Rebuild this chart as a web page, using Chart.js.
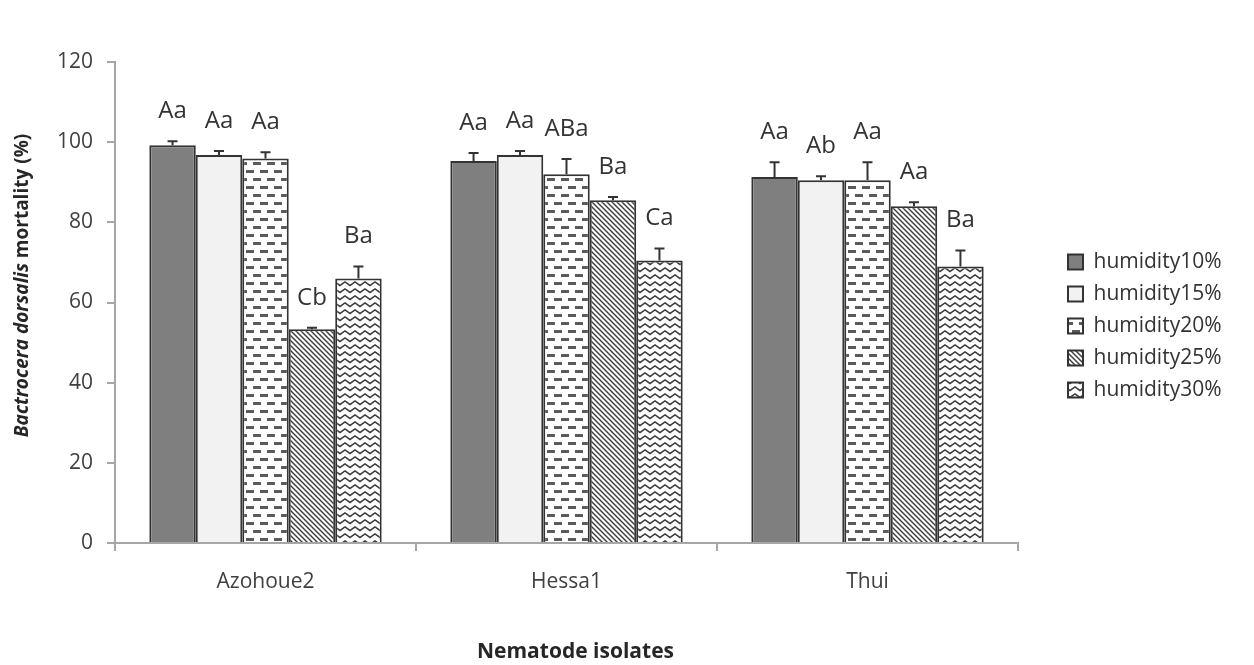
<!DOCTYPE html>
<html><head><meta charset="utf-8">
<script src="https://cdn.jsdelivr.net/npm/chart.js@4.4.0/dist/chart.umd.min.js"></script>
<style>html,body{margin:0;padding:0;background:#fff;}</style>
</head><body><canvas id="c" width="1254" height="665"></canvas>
<script>
const categories = ['Azohoue2', 'Hessa1', 'Thui'];
const seriesNames = ['humidity10%', 'humidity15%', 'humidity20%', 'humidity25%', 'humidity30%'];
const hum10 = [99.2, 95.3, 91.3];
const hum15 = [96.8, 96.8, 90.5];
const hum20 = [95.9, 92.0, 90.5];
const hum25 = [53.3, 85.5, 84.0];
const hum30 = [66.0, 70.5, 69.0];
const err10 = [1.0, 2.0, 3.7];
const err15 = [1.0, 1.0, 1.0];
const err20 = [1.6, 3.8, 4.5];
const err25 = [0.4, 0.8, 1.0];
const err30 = [3.0, 3.0, 4.0];
const let10 = ['Aa', 'Aa', 'Aa'];
const let15 = ['Aa', 'Aa', 'Ab'];
const let20 = ['Aa', 'ABa', 'Aa'];
const let25 = ['Cb', 'Ba', 'Aa'];
const let30 = ['Ba', 'Ca', 'Ba'];
const yMin = 0, yMax = 120, yStep = 20;
const xTitle = 'Nematode isolates';
const yTitleItalic = 'Bactrocera dorsalis';
const yTitleRest = ' mortality (%)';

const canvas = document.getElementById('c');
const ctx0 = canvas.getContext('2d');

function makePattern(kind) {
  const c = document.createElement('canvas');
  let ctx;
  if (kind === 'dash') {
    c.width = 14; c.height = 16; ctx = c.getContext('2d');
    ctx.fillStyle = '#fff'; ctx.fillRect(0, 0, 14, 16);
    ctx.fillStyle = '#5a5a5a';
    ctx.fillRect(1, 2, 8, 3); ctx.fillRect(8, 10, 8, 3); ctx.fillRect(-6, 10, 8, 3);
  } else if (kind === 'diag') {
    c.width = 5; c.height = 5; ctx = c.getContext('2d');
    ctx.fillStyle = '#fff'; ctx.fillRect(0, 0, 5, 5);
    ctx.strokeStyle = '#3c3c3c'; ctx.lineWidth = 1.4;
    for (let k = -1; k <= 1; k++) { ctx.beginPath(); ctx.moveTo(k * 5 - 1, -1); ctx.lineTo(k * 5 + 6, 6); ctx.stroke(); }
  } else if (kind === 'zig') {
    c.width = 10; c.height = 7; ctx = c.getContext('2d');
    ctx.fillStyle = '#fff'; ctx.fillRect(0, 0, 10, 7);
    ctx.strokeStyle = '#3c3c3c'; ctx.lineWidth = 1.5;
    ctx.beginPath(); ctx.moveTo(-5, 2); ctx.lineTo(0, 5.5); ctx.lineTo(5, 2); ctx.lineTo(10, 5.5); ctx.lineTo(15, 2); ctx.stroke();
  }
  return ctx0.createPattern(c, 'repeat');
}

const values = [hum10, hum15, hum20, hum25, hum30];
const errors = [err10, err15, err20, err25, err30];
const letters = [let10, let15, let20, let25, let30];
const fills = ['#7f7f7f', '#f2f2f2', makePattern('dash'), makePattern('diag'), makePattern('zig')];

const datasets = seriesNames.map((name, i) => ({
  label: name,
  data: values[i],
  errs: errors[i],
  letters: letters[i],
  backgroundColor: fills[i],
  borderColor: '#333333',
  borderWidth: 2,
  categoryPercentage: 0.772,
  barPercentage: 1.0
}));

// legend geometry: estimate natural legend width so the plot area ends at the same place
const legendFontSize = 21, legendBox = 15, legendPad = 11;
ctx0.font = legendFontSize + 'px "Open Sans"';
const maxLabelW = Math.max(...seriesNames.map(s => ctx0.measureText(s).width));
const legendW = legendBox + legendFontSize / 2 + maxLabelW + 10 + legendPad + 1;
const plotRight = 1017;
const padRight = Math.max(0, 1254 - plotRight - legendW);

const extras = {
  id: 'extras',
  afterLayout(chart) {
    const L = chart.legend;
    const dx = chart.chartArea.right + 39 - L.left;
    L.left += dx; L.right += dx + 40;
    L.width = L.right - L.left;
    L.top = 0; L.bottom = 652; L.height = 652;
  },
  afterDatasetsDraw(chart) {
    const ctx = chart.ctx;
    const ys = chart.scales.y;
    ctx.save();
    chart.data.datasets.forEach((ds, di) => {
      const meta = chart.getDatasetMeta(di);
      meta.data.forEach((bar, i) => {
        const top = ys.getPixelForValue(ds.data[i] + ds.errs[i]);
        ctx.strokeStyle = '#333333'; ctx.lineWidth = 2;
        ctx.beginPath();
        ctx.moveTo(bar.x, bar.y); ctx.lineTo(bar.x, top);
        ctx.moveTo(bar.x - 5, top); ctx.lineTo(bar.x + 5, top);
        ctx.stroke();
        ctx.fillStyle = '#333333';
        ctx.font = '24px "Open Sans"';
        ctx.textAlign = 'center'; ctx.textBaseline = 'middle';
        ctx.fillText(ds.letters[i], bar.x, top - 30);
      });
    });
    ctx.restore();
  },
  afterDraw(chart) {
    const ctx = chart.ctx; const a = chart.chartArea;
    ctx.save();
    ctx.fillStyle = '#262626';
    ctx.font = 'bold 21px "Open Sans"';
    ctx.textAlign = 'center'; ctx.textBaseline = 'middle';
    ctx.fillText(xTitle, (a.left + a.right) / 2 + 9, 652);
    ctx.translate(23, (a.top + a.bottom) / 2 - 17);
    ctx.rotate(-Math.PI / 2);
    const f1 = 'italic bold 19px "Open Sans"', f2 = 'bold 19px "Open Sans"';
    ctx.font = f1; const w1 = ctx.measureText(yTitleItalic).width;
    ctx.font = f2; const w2 = ctx.measureText(yTitleRest).width;
    const x0 = -(w1 + w2) / 2;
    ctx.textAlign = 'left';
    ctx.font = f1; ctx.fillText(yTitleItalic, x0, 0);
    ctx.font = f2; ctx.fillText(yTitleRest, x0 + w1, 0);
    ctx.restore();
  }
};

new Chart(canvas, {
  type: 'bar',
  data: { labels: categories, datasets },
  plugins: [extras],
  options: {
    responsive: false,
    animation: false,
    devicePixelRatio: 1,
    layout: { padding: { top: 62, left: 0, bottom: 0, right: padRight } },
    plugins: {
      legend: {
        position: 'right',
        labels: {
          boxWidth: legendBox, boxHeight: legendBox, padding: legendPad,
          color: '#333333',
          font: { family: 'Open Sans', size: legendFontSize }
        }
      },
      tooltip: { enabled: false }
    },
    scales: {
      x: {
        afterFit: s => { s.height = 122; },
        grid: { offset: true, drawOnChartArea: false, drawTicks: true, tickLength: 8, color: '#a6a6a6', lineWidth: 2 },
        border: { color: '#a6a6a6', width: 2 },
        ticks: { color: '#404040', padding: 18, font: { family: 'Open Sans', size: 21 } }
      },
      y: {
        min: yMin, max: yMax,
        afterFit: s => { s.width = 115; },
        grid: { drawOnChartArea: false, drawTicks: true, tickLength: 8, color: '#a6a6a6', lineWidth: 2 },
        border: { color: '#a6a6a6', width: 2 },
        ticks: { stepSize: yStep, color: '#404040', padding: 14, font: { family: 'Open Sans', size: 21 } }
      }
    }
  }
});
</script></body></html>
